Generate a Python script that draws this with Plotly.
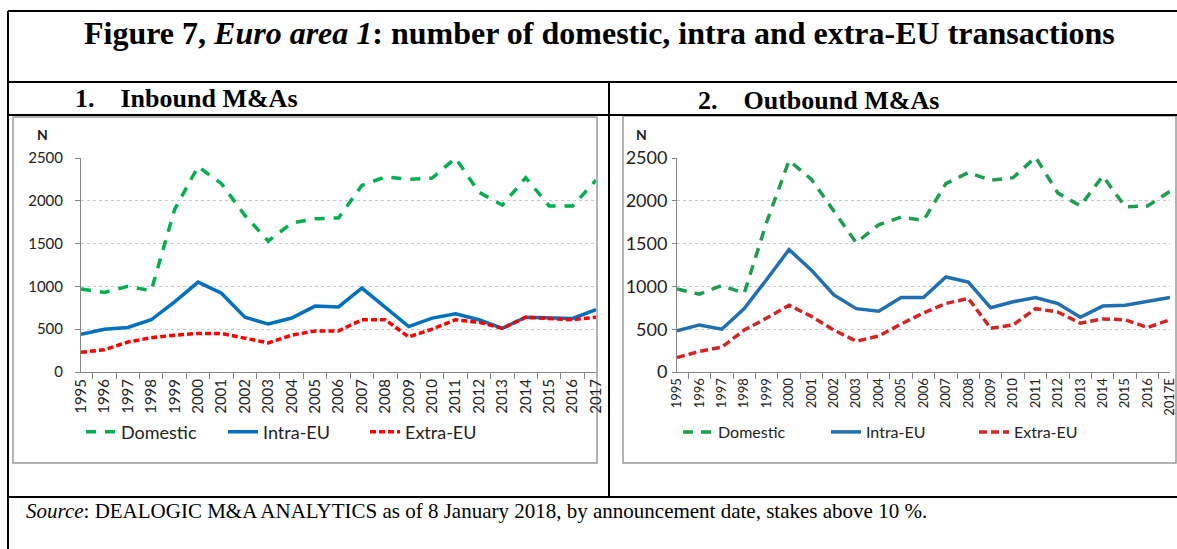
import plotly.graph_objects as go

W, H = 1177, 549

years_in = [str(y) for y in range(1995, 2018)]
years_out = [str(y) for y in range(1995, 2017)] + ["2017E"]

# inbound M&As (left panel)
in_domestic = [970, 930, 1000, 950, 1900, 2400, 2200, 1830, 1530, 1740, 1790, 1800,
               2180, 2280, 2250, 2265, 2500, 2100, 1950, 2270, 1940, 1940, 2240]
in_intra = [440, 500, 520, 610, 820, 1050, 920, 640, 560, 630, 770, 760,
            980, 750, 530, 630, 680, 610, 510, 640, 635, 625, 730]
in_extra = [230, 260, 350, 400, 430, 450, 450, 400, 340, 430, 480, 480,
            610, 610, 410, 500, 610, 580, 510, 640, 620, 610, 640]

# outbound M&As (right panel)
out_domestic = [970, 910, 1010, 920, 1750, 2470, 2250, 1880, 1510, 1720, 1810, 1770,
                2200, 2330, 2240, 2270, 2510, 2090, 1940, 2290, 1930, 1940, 2110]
out_intra = [480, 550, 500, 740, 1080, 1430, 1190, 900, 740, 710, 870, 870,
             1110, 1050, 750, 820, 870, 800, 640, 770, 780, 820, 870]
out_extra = [170, 240, 290, 490, 630, 780, 650, 490, 360, 420, 560, 690,
             800, 860, 510, 550, 740, 700, 570, 620, 610, 520, 610]

series_names = ["Domestic", "Intra-EU", "Extra-EU"]


def px(x):
    return x / W


def py(y):
    return 1 - y / H


fig = go.Figure()

left_style = [("#00b050", "10px,9px"), ("#0070c0", "solid"), ("#ff0000", "6px,3px")]
right_style = [("#1b9e52", "10px,8px"), ("#1f6fb2", "solid"), ("#d42424", "8px,4px")]

for name, vals, (col, dash) in zip(series_names, [in_domestic, in_intra, in_extra], left_style):
    fig.add_trace(go.Scatter(x=years_in, y=vals, name=name, mode="lines",
                             line=dict(color=col, width=3.5, dash=dash),
                             xaxis="x", yaxis="y", legend="legend"))

for name, vals, (col, dash) in zip(series_names, [out_domestic, out_intra, out_extra], right_style):
    fig.add_trace(go.Scatter(x=years_out, y=vals, name=name, mode="lines",
                             line=dict(color=col, width=3.5, dash=dash),
                             xaxis="x2", yaxis="y2", legend="legend2"))

tickfont = dict(family="Lato", size=15, color="#222222")

xax = dict(type="category", tickangle=-90, ticks="outside", tickson="boundaries", ticklen=6,
           tickcolor="#868686", showline=True, linecolor="#868686", linewidth=1,
           showgrid=False, tickfont=tickfont, automargin=False)
yax = dict(range=[0, 2500], dtick=500, showgrid=True, gridcolor="#c8c8c8", griddash="dot",
           gridwidth=1, showline=True, linecolor="#868686", linewidth=1, ticks="outside",
           ticklen=5, tickcolor="#868686", zeroline=False, tickfont=tickfont,
           ticklabelstandoff=9, automargin=False)

ybottom, ytop = py(372), py(158)

legend_common = dict(orientation="h", yanchor="middle", y=py(432), xanchor="left",
                     bgcolor="rgba(0,0,0,0)", entrywidthmode="pixels", tracegroupgap=0)

fig.update_layout(
    width=W, height=H,
    margin=dict(l=0, r=0, t=0, b=0, autoexpand=False),
    paper_bgcolor="white", plot_bgcolor="white",
    xaxis=dict(xax, domain=[px(81), px(596)], anchor="y"),
    yaxis=dict(yax, domain=[ybottom, ytop], anchor="x"),
    xaxis2=dict(xax, domain=[px(677), px(1170)], anchor="y2", tickfont=dict(tickfont, size=13)),
    yaxis2=dict(yax, domain=[ybottom, ytop], anchor="x2", tickfont=dict(tickfont, size=18),
                ticklabelstandoff=1, ticklen=4),
    legend=dict(legend_common, x=px(81), entrywidth=97,
                font=dict(family="Lato", size=18, color="#222222")),
    legend2=dict(legend_common, x=px(678), entrywidth=103,
                 font=dict(family="Lato", size=16, color="#222222")),
)

# table lines and chart boxes
black = dict(color="black", width=2)
grey = dict(color="#9a9a9a", width=1.5)
lines = [
    (8, 11, W, 11), (8, 82, W, 82), (8, 115, W, 115), (8, 497, W, 497),
    (8, 11, 8, H), (609, 82, 609, 497),
]
for x0, y0, x1, y1 in lines:
    fig.add_shape(type="line", xref="paper", yref="paper",
                  x0=px(x0), y0=py(y0), x1=px(x1), y1=py(y1), line=black)
for x0, y0, x1, y1 in [(13, 117, 597, 463), (623, 116, 1176, 463)]:
    fig.add_shape(type="rect", xref="paper", yref="paper",
                  x0=px(x0), y0=py(y0), x1=px(x1), y1=py(y1), line=grey, layer="below")

serif = "Liberation Serif"


def note(x, y, text, font, xanchor="left"):
    fig.add_annotation(x=px(x), y=py(y), xref="paper", yref="paper", showarrow=False,
                       xanchor=xanchor, yanchor="middle", text=text, font=font)


note(599, 33, "<b>Figure 7, <i>Euro area 1</i>: number of domestic, intra and extra-EU transactions</b>",
     dict(family=serif, size=32, color="black"), xanchor="center")
note(73, 99, "<b>1.&nbsp;&nbsp;&nbsp;&nbsp;Inbound M&amp;As</b>", dict(family=serif, size=26, color="black"))
note(696, 100, "<b>2.&nbsp;&nbsp;&nbsp;&nbsp;Outbound M&amp;As</b>", dict(family=serif, size=26, color="black"))
note(24, 511, "<i>Source</i>: DEALOGIC M&amp;A ANALYTICS as of 8 January 2018, by announcement date, stakes above 10 %.",
     dict(family=serif, size=21, color="black"))
for xn in (35, 634):
    note(xn, 134, "<b>N</b>", dict(family="Lato", size=14, color="#222222"))

# page body margin would push the 1177x549 figure off screen
fig.write_html("out.html", config={"displayModeBar": False},
               post_script="document.body.style.margin='0';document.body.style.overflow='hidden';")
